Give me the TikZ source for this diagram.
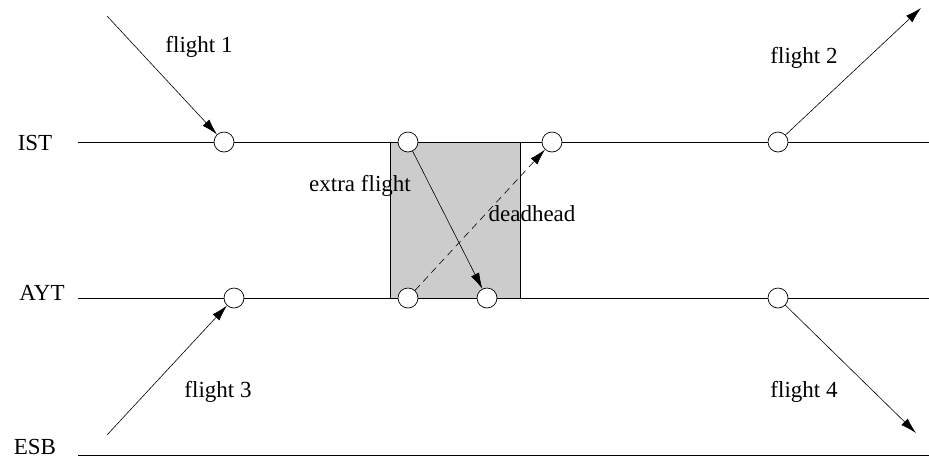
\documentclass[tikz,border=0pt]{standalone}
\usepackage{fontspec}
\setmainfont{Liberation Serif}
\usetikzlibrary{arrows.meta, positioning}

\begin{document}
\begin{tikzpicture}[x=1pt, y=-1pt,
        stop/.style={circle, draw, fill=white, minimum size=20pt, inner sep=0pt, line width=0.7pt},
        lbl/.style={font=\fontsize{23}{27}\selectfont, inner sep=0pt},
        leg/.style={line width=0.6pt, -{Latex[length=16pt, width=9pt]}},
        base/.style={line width=0.8pt}]
        \useasboundingbox (0,0) rectangle (929,459);

        % Khung thời gian chung
        \filldraw[fill=black!20, draw=black, line width=0.7pt] (390,142) rectangle (520,298);

        % Các trạm
        \node[lbl] (ist) at (35,143) {IST};
        \node[lbl] (ayt) at (42,293) {AYT};
        \node[lbl] (esb) at (35,447) {ESB};
        \draw[base] (78,142) -- (929,142);
        \draw[base] (78,298) -- (929,298);
        \draw[base] (78,455) -- (929,455);

        % Các điểm
        \node[stop] (i1) at (224,142) {};
        \node[stop] (i2) at (408,142) {};
        \node[stop] (i3) at (552,142) {};
        \node[stop] (i4) at (778,142) {};
        \node[stop] (a1) at (234,298) {};
        \node[stop] (a2) at (408,298) {};
        \node[stop] (a3) at (487,298) {};
        \node[stop] (a4) at (778,298) {};

        % Đầu mút ngoài
        \coordinate (f1) at (107,16);
        \coordinate (f2) at (921,8);
        \coordinate (f3) at (107,435);
        \coordinate (f4) at (916,433);

        % Chuyến bay
        \draw[leg] (f1) -- (i1);
        \draw[leg] (i4) -- (f2);
        \draw[leg] (f3) -- (a1);
        \draw[leg] (a4) -- (f4);
        \draw[leg] (i2) -- (a3);
        \draw[leg, dashed, dash pattern=on 7pt off 5pt] (a2) -- (i3);

        % Nhãn
        \node[lbl] (l1) at (199,47) {flight 1};
        \node[lbl] (l2) at (804,58) {flight 2};
        \node[lbl] (l3) at (218,392) {flight 3};
        \node[lbl] (l4) at (804,392) {flight 4};
        \node[lbl] (lx) at (360,186) {extra flight};
        \node[lbl] (ld) at (532,214) {deadhead};
\end{tikzpicture}
\end{document}
